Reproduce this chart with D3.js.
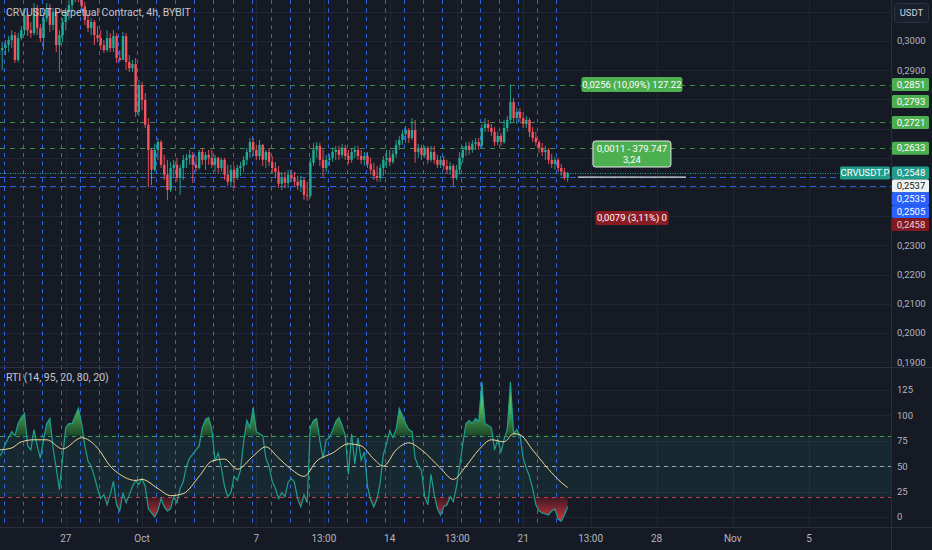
<!DOCTYPE html>
<html lang="en">
<head>
<meta charset="UTF-8" />
<title>CRVUSDT Perpetual Contract, 4h</title>
<style>
  body { margin: 0; background: #161a25; overflow: hidden; }
  svg text { font-family: Roboto, "Noto Sans", "DejaVu Sans", sans-serif; }
</style>
</head>
<body>
<script src="https://cdn.jsdelivr.net/npm/d3@7"></script>
<script>

// ---- data (4h candles, first one Sep 23 12:00) ----
var firstOpen = 0.2952;

var closes = [
  0.2969,0.2976,0.2986,0.3003,0.3020,0.2935,0.3010,0.3037,0.3089,0.3037,
  0.3027,0.3113,0.3044,0.3010,0.3078,0.3113,0.3055,0.3099,0.2986,0.3020,
  0.3065,0.3099,0.3123,0.3147,0.3167,0.3154,0.3119,0.3072,0.3044,0.3065,
  0.3020,0.3010,0.2986,0.2969,0.3010,0.2976,0.3017,0.2942,0.2935,0.3017,
  0.2928,0.2907,0.2921,0.2757,0.2849,0.2798,0.2713,0.2627,0.2559,0.2627,
  0.2654,0.2576,0.2542,0.2490,0.2565,0.2576,0.2531,0.2565,0.2593,0.2600,
  0.2610,0.2576,0.2565,0.2620,0.2593,0.2610,0.2600,0.2576,0.2600,0.2565,
  0.2593,0.2542,0.2518,0.2559,0.2531,0.2565,0.2572,0.2593,0.2620,0.2654,
  0.2627,0.2606,0.2644,0.2593,0.2620,0.2586,0.2565,0.2552,0.2511,0.2531,
  0.2514,0.2542,0.2531,0.2518,0.2504,0.2524,0.2473,0.2470,0.2583,0.2627,
  0.2641,0.2593,0.2565,0.2593,0.2600,0.2620,0.2627,0.2610,0.2634,0.2606,
  0.2593,0.2620,0.2627,0.2606,0.2593,0.2606,0.2579,0.2559,0.2538,0.2531,
  0.2565,0.2593,0.2600,0.2586,0.2613,0.2644,0.2661,0.2682,0.2695,0.2668,
  0.2695,0.2620,0.2634,0.2610,0.2634,0.2593,0.2620,0.2593,0.2576,0.2593,
  0.2572,0.2559,0.2572,0.2531,0.2559,0.2600,0.2627,0.2641,0.2627,0.2648,
  0.2654,0.2641,0.2702,0.2716,0.2702,0.2689,0.2654,0.2675,0.2654,0.2702,
  0.2730,0.2791,0.2736,0.2757,0.2736,0.2716,0.2730,0.2689,0.2668,0.2654,
  0.2634,0.2620,0.2627,0.2593,0.2579,0.2593,0.2565,0.2552,0.2531,0.2548
];

var highs = [
  0.2986,0.2996,0.3003,0.3017,0.3037,0.3031,0.3027,0.3051,0.3106,0.3099,
  0.3065,0.3130,0.3123,0.3058,0.3099,0.3130,0.3126,0.3113,0.3106,0.3037,
  0.3078,0.3113,0.3140,0.3167,0.3188,0.3181,0.3167,0.3133,0.3092,0.3078,
  0.3072,0.3051,0.3037,0.3003,0.3037,0.3027,0.3037,0.3027,0.2969,0.3031,
  0.3027,0.2952,0.2935,0.2942,0.2866,0.2860,0.2822,0.2736,0.2634,0.2648,
  0.2668,0.2661,0.2610,0.2593,0.2586,0.2593,0.2600,0.2576,0.2610,0.2613,
  0.2627,0.2620,0.2606,0.2627,0.2634,0.2620,0.2627,0.2627,0.2610,0.2603,
  0.2600,0.2600,0.2576,0.2576,0.2572,0.2576,0.2586,0.2606,0.2634,0.2668,
  0.2668,0.2644,0.2661,0.2648,0.2627,0.2634,0.2606,0.2586,0.2572,0.2552,
  0.2552,0.2559,0.2559,0.2552,0.2538,0.2538,0.2531,0.2518,0.2600,0.2651,
  0.2654,0.2651,0.2627,0.2610,0.2613,0.2634,0.2641,0.2641,0.2648,0.2644,
  0.2627,0.2634,0.2641,0.2641,0.2627,0.2620,0.2620,0.2600,0.2583,0.2572,
  0.2579,0.2606,0.2627,0.2627,0.2627,0.2661,0.2675,0.2695,0.2709,0.2702,
  0.2736,0.2730,0.2648,0.2644,0.2641,0.2641,0.2641,0.2641,0.2610,0.2606,
  0.2606,0.2593,0.2586,0.2579,0.2576,0.2620,0.2641,0.2654,0.2654,0.2661,
  0.2668,0.2668,0.2716,0.2736,0.2730,0.2716,0.2706,0.2689,0.2685,0.2730,
  0.2743,0.2851,0.2805,0.2771,0.2771,0.2757,0.2743,0.2736,0.2706,0.2689,
  0.2661,0.2651,0.2641,0.2634,0.2613,0.2603,0.2600,0.2579,0.2565,0.2552
];

var lows = [
  0.2928,0.2901,0.2952,0.2962,0.2976,0.2925,0.2928,0.3003,0.3020,0.3017,
  0.3010,0.3020,0.3020,0.2996,0.2969,0.3065,0.3031,0.3037,0.2962,0.2894,
  0.2996,0.3037,0.3072,0.3099,0.3133,0.3133,0.3106,0.3055,0.3031,0.3020,
  0.2986,0.2996,0.2969,0.2959,0.2962,0.2962,0.2962,0.2925,0.2928,0.2935,
  0.2901,0.2894,0.2894,0.2740,0.2743,0.2764,0.2702,0.2500,0.2507,0.2552,
  0.2593,0.2565,0.2524,0.2456,0.2483,0.2531,0.2518,0.2473,0.2524,0.2565,
  0.2576,0.2514,0.2552,0.2559,0.2576,0.2559,0.2576,0.2565,0.2552,0.2548,
  0.2552,0.2524,0.2504,0.2504,0.2497,0.2524,0.2538,0.2552,0.2576,0.2600,
  0.2606,0.2593,0.2593,0.2572,0.2565,0.2572,0.2548,0.2531,0.2497,0.2490,
  0.2497,0.2497,0.2518,0.2504,0.2490,0.2483,0.2456,0.2453,0.2463,0.2572,
  0.2600,0.2572,0.2535,0.2552,0.2572,0.2586,0.2593,0.2593,0.2600,0.2593,
  0.2579,0.2583,0.2600,0.2593,0.2579,0.2572,0.2565,0.2542,0.2524,0.2518,
  0.2518,0.2538,0.2565,0.2572,0.2579,0.2600,0.2627,0.2644,0.2651,0.2651,
  0.2661,0.2583,0.2600,0.2593,0.2600,0.2579,0.2586,0.2579,0.2565,0.2565,
  0.2559,0.2545,0.2542,0.2504,0.2524,0.2542,0.2583,0.2606,0.2610,0.2617,
  0.2627,0.2627,0.2634,0.2689,0.2689,0.2675,0.2641,0.2644,0.2641,0.2648,
  0.2689,0.2716,0.2723,0.2716,0.2723,0.2702,0.2702,0.2671,0.2654,0.2641,
  0.2617,0.2606,0.2593,0.2579,0.2565,0.2559,0.2552,0.2538,0.2524,0.2518
];

// RTI (14, 95, 20, 80, 20), one value per candle
var rti = [
  59,64,72,78,84,80,92,98,102,70,
  66,86,70,58,76,92,97,68,48,27,
  58,88,92,92,100,107,92,70,55,50,
  40,28,18,22,12,22,35,12,6,24,
  14,22,30,36,32,38,30,8,4,0,
  6,18,10,6,8,20,14,28,35,50,
  58,62,66,70,88,96,98,86,55,63,
  48,30,20,24,40,36,46,74,95,88,
  108,84,82,80,58,50,35,28,18,24,
  20,34,38,34,18,10,22,14,88,95,
  97,75,58,76,78,85,94,98,90,80,
  42,82,52,78,56,64,30,17,10,18,
  34,62,72,85,78,86,107,100,92,86,
  84,58,50,46,20,12,42,22,8,2,
  10,12,20,15,30,50,72,92,95,92,
  97,94,133,92,90,88,66,76,64,76,
  86,133,82,86,80,58,48,40,28,12,
  6,4,3,2,6,8,-2,-4,2,10
];

// smoothed RTI (yellow line), read at these candle indexes
var signalIdx  = [0,4,7,11,15,20,26,31,35,38,43,45,50,54,58,63,67,71,75,80,84,88,92,96,100,105,110,114,118,121,125,129,133,139,143,147,151,155,159,162,164,168,173,177,179];
var signalVals = [66,68,74,76,76,67,78,68,50,42,36,37,28,21,23,40,55,57,47,60,69,58,47,40,55,63,72,70,57,50,66,73,66,48,37,50,66,76,74,82,81,66,47,34,29];

// levels and tick labels
var greenLevels = [0.2851, 0.2721, 0.2633];
var blueLevels = [0.2535, 0.2505];
var lastPrice = 0.2548;
var markPrices = [0.2851, 0.2793, 0.2721, 0.2633, 0.2548, 0.2537, 0.2535, 0.2505, 0.2458];
var priceTicks = [0.19, 0.20, 0.21, 0.22, 0.23, 0.24, 0.25, 0.26, 0.27, 0.28, 0.29, 0.30, 0.31];
var rtiTicks = [0, 25, 50, 75, 100, 125];
var rtiLevels = [80, 50, 20];
var timeTicks = ["2024-09-27T00:00Z","2024-10-01T00:00Z","2024-10-07T00:00Z","2024-10-10T13:00Z","2024-10-14T00:00Z",
                 "2024-10-17T13:00Z","2024-10-21T00:00Z","2024-10-24T13:00Z","2024-10-28T00:00Z","2024-11-01T00:00Z","2024-11-05T00:00Z"];
var timeLabels = ["27","Oct","7","13:00","14","13:00","21","13:00","28","Nov","5"];

// ---- layout ----
var W = 932, H = 550;
var paneRight = 891;
var mainBottom = 367, indTop = 368, indBottom = 527;

var HOUR = 3600 * 1000;
var t0 = Date.UTC(2024, 8, 23, 12);

var candles = closes.map(function(c, i) {
  var o = i === 0 ? firstOpen : closes[i - 1];
  return {
    date: new Date(t0 + i * 4 * HOUR),
    open: o,
    close: c,
    high: Math.max(highs[i], o, c),
    low: Math.min(lows[i], o, c),
    rti: rti[i]
  };
});

var signal = signalIdx.map(function(k, j) {
  return { date: new Date(t0 + k * 4 * HOUR), value: signalVals[j] };
});

// scales
var xScale = d3.scaleUtc()
  .domain([new Date(Date.UTC(2024, 9, 1)), new Date(Date.UTC(2024, 10, 5))])
  .range([142, 809]);

var yPrice = d3.scaleLinear().domain([0.19, 0.30]).range([362.2, 41]);
var yRti = d3.scaleLinear().domain([0, 125]).range([517, 390]);

var fmtPrice = function(v) { return d3.format(".4f")(v).replace(".", ","); };

// colors
var bg = "#161a25", grid = "#222633", axisText = "#b2b5be";
var upCol = "#22ab94", downCol = "#f7525f";

var svg = d3.select("body").append("svg")
  .attr("width", W)
  .attr("height", H);

svg.append("rect").attr("width", W).attr("height", H).attr("fill", bg);

var defs = svg.append("defs");

defs.append("clipPath").attr("id", "mainClip")
  .append("rect").attr("x", 0).attr("y", 0).attr("width", paneRight).attr("height", mainBottom);
defs.append("clipPath").attr("id", "indClip")
  .append("rect").attr("x", 0).attr("y", indTop).attr("width", paneRight).attr("height", indBottom - indTop);
defs.append("clipPath").attr("id", "obClip")
  .append("rect").attr("x", 0).attr("y", indTop).attr("width", paneRight).attr("height", yRti(80) - indTop);
defs.append("clipPath").attr("id", "osClip")
  .append("rect").attr("x", 0).attr("y", yRti(20)).attr("width", paneRight).attr("height", indBottom - yRti(20));
defs.append("clipPath").attr("id", "axisClip")
  .append("rect").attr("x", paneRight).attr("y", 0).attr("width", W - paneRight).attr("height", mainBottom);

var gUp = defs.append("linearGradient").attr("id", "gUp")
  .attr("gradientUnits", "userSpaceOnUse")
  .attr("x1", 0).attr("x2", 0).attr("y1", yRti(112)).attr("y2", yRti(80));
gUp.append("stop").attr("offset", 0).attr("stop-color", "#5ac85f");
gUp.append("stop").attr("offset", 1).attr("stop-color", "#1b4629");

var gDn = defs.append("linearGradient").attr("id", "gDn")
  .attr("gradientUnits", "userSpaceOnUse")
  .attr("x1", 0).attr("x2", 0).attr("y1", yRti(20)).attr("y2", yRti(-2));
gDn.append("stop").attr("offset", 0).attr("stop-color", "#3a1821");
gDn.append("stop").attr("offset", 1).attr("stop-color", "#c2333d");

// ---- grid ----
var mainG = svg.append("g").attr("clip-path", "url(#mainClip)");
var indG = svg.append("g").attr("clip-path", "url(#indClip)");

mainG.selectAll(".hgrid").data(priceTicks).enter().append("line")
  .attr("x1", 0).attr("x2", paneRight)
  .attr("y1", function(d) { return Math.round(yPrice(d)) + 0.5; })
  .attr("y2", function(d) { return Math.round(yPrice(d)) + 0.5; })
  .attr("stroke", grid);

indG.selectAll(".hgrid").data(rtiTicks).enter().append("line")
  .attr("x1", 0).attr("x2", paneRight)
  .attr("y1", function(d) { return Math.round(yRti(d)) + 0.5; })
  .attr("y2", function(d) { return Math.round(yRti(d)) + 0.5; })
  .attr("stroke", grid);

[mainG, indG].forEach(function(g) {
  g.selectAll(".vgrid").data(timeTicks).enter().append("line")
    .attr("x1", function(d) { return Math.round(xScale(new Date(d))) + 0.5; })
    .attr("x2", function(d) { return Math.round(xScale(new Date(d))) + 0.5; })
    .attr("y1", 0).attr("y2", H)
    .attr("stroke", grid);
});

// overbought / oversold band
indG.append("rect")
  .attr("x", 0).attr("width", paneRight)
  .attr("y", yRti(80)).attr("height", yRti(20) - yRti(80))
  .attr("fill", "#26a69a").attr("opacity", 0.1);

// daily vertical markers (18:00 each day)
var dayMarks = d3.utcDay.range(new Date(Date.UTC(2024, 8, 23)), new Date(Date.UTC(2024, 9, 23)))
  .map(function(d) { return new Date(d.getTime() + 18 * HOUR); });

[mainG, indG].forEach(function(g) {
  g.selectAll(".dayMark").data(dayMarks).enter().append("line")
    .attr("x1", function(d) { return Math.round(xScale(d)) + 0.5; })
    .attr("x2", function(d) { return Math.round(xScale(d)) + 0.5; })
    .attr("y1", 0).attr("y2", H)
    .attr("stroke", "#2f66e8").attr("stroke-dasharray", "4,4.5");
});

// horizontal levels
mainG.selectAll(".greenLvl").data(greenLevels).enter().append("line")
  .attr("x1", 0).attr("x2", paneRight)
  .attr("y1", function(d) { return Math.round(yPrice(d)) + 0.5; })
  .attr("y2", function(d) { return Math.round(yPrice(d)) + 0.5; })
  .attr("stroke", "#3f8a4c").attr("stroke-dasharray", "5,5");

mainG.selectAll(".blueLvl").data(blueLevels).enter().append("line")
  .attr("x1", 0).attr("x2", paneRight)
  .attr("y1", function(d) { return Math.round(yPrice(d)) + 0.5; })
  .attr("y2", function(d) { return Math.round(yPrice(d)) + 0.5; })
  .attr("stroke", "#2d5fd6").attr("stroke-dasharray", "6,4");

// ---- candles ----
var cg = mainG.append("g");

cg.selectAll(".wick").data(candles).enter().append("line")
  .attr("x1", function(d) { return xScale(d.date); })
  .attr("x2", function(d) { return xScale(d.date); })
  .attr("y1", function(d) { return yPrice(d.high); })
  .attr("y2", function(d) { return yPrice(d.low); })
  .attr("stroke", function(d) { return d.close >= d.open ? upCol : downCol; })
  .attr("stroke-width", 0.9);

cg.selectAll(".body").data(candles).enter().append("rect")
  .attr("x", function(d) { return xScale(d.date) - 1.2; })
  .attr("width", 2.4)
  .attr("y", function(d) { return yPrice(Math.max(d.open, d.close)); })
  .attr("height", function(d) { return Math.max(1, Math.abs(yPrice(d.open) - yPrice(d.close))); })
  .attr("fill", function(d) { return d.close >= d.open ? upCol : downCol; });

// last price dotted line
mainG.append("line")
  .attr("x1", 0).attr("x2", 840)
  .attr("y1", Math.round(yPrice(lastPrice)) + 0.5)
  .attr("y2", Math.round(yPrice(lastPrice)) + 0.5)
  .attr("stroke", upCol).attr("stroke-dasharray", "1,1.5");

// short white ray at 0.2537
mainG.append("line")
  .attr("x1", xScale(new Date(Date.UTC(2024, 9, 23, 21))))
  .attr("x2", xScale(new Date(Date.UTC(2024, 9, 29, 13))))
  .attr("y1", yPrice(0.2537) + 1).attr("y2", yPrice(0.2537) + 1)
  .attr("stroke", "#d8dbe0").attr("stroke-width", 1.2);

// measurement labels
function box(g, cx, cy, w, h, fill, lines, border) {
  var r = g.append("rect")
    .attr("x", cx - w / 2).attr("y", cy - h / 2)
    .attr("width", w).attr("height", h)
    .attr("rx", 2.5)
    .attr("fill", fill);
  if (border) r.attr("stroke", "#e8eaee").attr("stroke-width", 1);
  lines.forEach(function(t, k) {
    g.append("text")
      .attr("x", cx)
      .attr("y", cy - (lines.length - 1) * 5.5 + k * 11)
      .attr("dy", "0.35em")
      .attr("text-anchor", "middle")
      .attr("fill", "#ffffff")
      .attr("font-size", "9.5px")
      .text(t);
  });
}

var noteX = xScale(new Date(Date.UTC(2024, 9, 26, 17)));
box(mainG, noteX, yPrice(0.2851), 101, 15, "#4caf50", ["0,0256 (10,09%) 127.22"]);
box(mainG, noteX, yPrice(0.2613), 78, 26, "#4caf50", ["0,0011 - 379.747", "3,24"], true);
box(mainG, noteX, yPrice(0.2394), 73, 14, "#8c1c24", ["0,0079 (3,11%) 0"]);

// title
svg.append("text")
  .attr("x", 6).attr("y", 16)
  .attr("fill", "#c3c6ce")
  .attr("font-size", "10.5px")
  .text("CRVUSDT Perpetual Contract, 4h, BYBIT");

// ---- RTI pane ----
var area = function(level) {
  return d3.area()
    .x(function(d) { return xScale(d.date); })
    .y0(yRti(level))
    .y1(function(d) { return yRti(d.rti); });
};

indG.append("path").datum(candles)
  .attr("clip-path", "url(#obClip)")
  .attr("d", area(80))
  .attr("fill", "url(#gUp)");

indG.append("path").datum(candles)
  .attr("clip-path", "url(#osClip)")
  .attr("d", area(20))
  .attr("fill", "url(#gDn)");

var levelCols = ["#3f9e4e", "#a3a6af", "#b8404a"];
indG.selectAll(".lvl").data(rtiLevels).enter().append("line")
  .attr("x1", 0).attr("x2", paneRight)
  .attr("y1", function(d) { return Math.round(yRti(d)) + 0.5; })
  .attr("y2", function(d) { return Math.round(yRti(d)) + 0.5; })
  .attr("stroke", function(d, i) { return levelCols[i]; })
  .attr("stroke-dasharray", "4,4");

indG.append("path").datum(candles)
  .attr("d", d3.line()
    .x(function(d) { return xScale(d.date); })
    .y(function(d) { return yRti(d.rti); }))
  .attr("fill", "none")
  .attr("stroke", "#1e9e8d")
  .attr("stroke-width", 1.2);

indG.append("path").datum(signal)
  .attr("d", d3.line()
    .curve(d3.curveMonotoneX)
    .x(function(d) { return xScale(d.date); })
    .y(function(d) { return yRti(d.value); }))
  .attr("fill", "none")
  .attr("stroke", "#f3d79a")
  .attr("stroke-width", 1);

svg.append("text")
  .attr("x", 6).attr("y", 381)
  .attr("fill", "#c3c6ce")
  .attr("font-size", "10.5px")
  .text("RTI (14, 95, 20, 80, 20)");

// ---- separators ----
svg.append("line").attr("x1", 0).attr("x2", W).attr("y1", mainBottom + 0.5).attr("y2", mainBottom + 0.5).attr("stroke", "#2a2e39");
svg.append("line").attr("x1", 0).attr("x2", W).attr("y1", indBottom + 0.5).attr("y2", indBottom + 0.5).attr("stroke", "#2a2e39");
svg.append("line").attr("x1", paneRight + 0.5).attr("x2", paneRight + 0.5).attr("y1", 0).attr("y2", H).attr("stroke", "#2a2e39");

// stacked price marks on the axis (computed first so covered ticks can be skipped)
var markFill = ["#4caf50", "#4caf50", "#4caf50", "#4caf50", "#1f9d8b", "#eef2ee", "#2962ff", "#2962ff", "#801922"];
var markText = ["#fff", "#fff", "#fff", "#fff", "#fff", "#131722", "#fff", "#fff", "#f0d0d0"];
var prevY = -100;
var marks = markPrices.map(function(p, i) {
  var y = Math.max(yPrice(p), prevY + 12.9);
  prevY = y;
  return { p: p, y: y, i: i };
});

// ---- price axis ----
var axisG = svg.append("g").attr("clip-path", "url(#axisClip)");

var visibleTicks = priceTicks.filter(function(d) {
  if (d > 0.30) return false;
  return marks.every(function(m) { return Math.abs(m.y - yPrice(d)) >= 11; });
});

axisG.selectAll(".ptick").data(visibleTicks).enter().append("text")
  .attr("x", 897)
  .attr("y", function(d) { return yPrice(d); })
  .attr("dy", "0.35em")
  .attr("fill", axisText)
  .attr("font-size", "9.5px")
  .text(fmtPrice);

var markG = svg.append("g");
markG.selectAll("rect").data(marks).enter().append("rect")
  .attr("x", paneRight + 1).attr("width", 37)
  .attr("y", function(d) { return d.y - 6.5; })
  .attr("height", 13)
  .attr("rx", 1.5)
  .attr("fill", function(d) { return markFill[d.i]; });
markG.selectAll("text").data(marks).enter().append("text")
  .attr("x", 911).attr("y", function(d) { return d.y; })
  .attr("dy", "0.35em")
  .attr("text-anchor", "middle")
  .attr("fill", function(d) { return markText[d.i]; })
  .attr("font-size", "9.5px")
  .text(function(d) { return fmtPrice(d.p); });

// symbol tag next to the last price
var lastY = yPrice(lastPrice);
svg.append("rect")
  .attr("x", 840).attr("y", lastY - 6.5).attr("width", 50).attr("height", 13)
  .attr("rx", 1.5).attr("fill", "#1f9d8b");
svg.append("text")
  .attr("x", 865).attr("y", lastY).attr("dy", "0.35em")
  .attr("text-anchor", "middle").attr("fill", "#fff").attr("font-size", "9.5px")
  .text("CRVUSDT.P");

// currency button
svg.append("rect")
  .attr("x", 894.5).attr("y", 3.5).attr("width", 34).attr("height", 19)
  .attr("rx", 3).attr("fill", "#1b1f2b").attr("stroke", "#2e3340");
svg.append("text")
  .attr("x", 911.5).attr("y", 13).attr("dy", "0.35em")
  .attr("text-anchor", "middle").attr("fill", "#d1d4dc").attr("font-size", "9.5px")
  .text("USDT");

// ---- RTI axis ----
svg.selectAll(".rtick").data(rtiTicks).enter().append("text")
  .attr("x", 897)
  .attr("y", function(d) { return yRti(d); })
  .attr("dy", "0.35em")
  .attr("fill", axisText)
  .attr("font-size", "9.5px")
  .text(function(d) { return d; });

// ---- time axis ----
svg.selectAll(".ttick").data(timeTicks).enter().append("text")
  .attr("x", function(d) { return xScale(new Date(d)); })
  .attr("y", 538)
  .attr("dy", "0.35em")
  .attr("text-anchor", "middle")
  .attr("fill", axisText)
  .attr("font-size", "10px")
  .text(function(d, i) { return timeLabels[i]; });

</script>
</body>
</html>
